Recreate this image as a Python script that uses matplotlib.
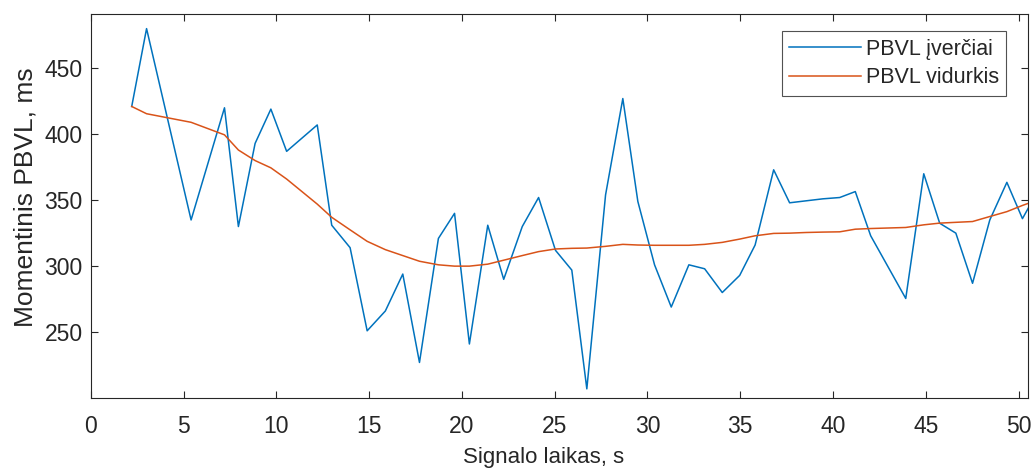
import numpy as np
import matplotlib
matplotlib.use("Agg")
import matplotlib.pyplot as plt

# signal time (s) of each estimate
t = [2.2, 3.0, 5.4, 7.2, 7.95, 8.85, 9.7, 10.55, 12.2, 12.98, 13.97, 14.89,
     15.87, 16.81, 17.71, 18.73, 19.6, 20.4, 21.39, 22.25, 23.25, 24.13,
     25.04, 25.92, 26.73, 27.74, 28.67, 29.48, 30.38, 31.28, 32.23, 33.08,
     34.03, 34.97, 35.8, 36.8, 37.66, 38.55, 39.45, 40.36, 41.2, 42.03,
     43.92, 44.89, 45.75, 46.62, 47.52, 48.45, 49.37, 50.21, 51.0]

# momentary RR interval estimates, ms
rr = [421, 480, 335, 420, 330, 393, 419, 387, 407, 331, 314, 251,
      266, 294, 227, 321, 340, 241, 331, 290, 330, 352,
      312, 297, 207, 354, 427, 349, 301, 269, 301, 298,
      280, 293, 316, 373, 348, 349.5, 351, 352, 356.5, 323,
      275.5, 370, 332.5, 325, 287, 335, 363.5, 336, 356]

# running mean, ms
rr_mean = [421, 415.5, 409, 399.5, 388, 380, 374.5, 366, 347, 337, 327.5, 318.8,
           312.5, 308, 303.7, 301, 300, 300, 301.5, 304.5, 308, 311,
           313, 313.5, 313.7, 315, 316.5, 316, 315.8, 315.8, 315.8, 316.5,
           318, 320.5, 323, 324.8, 325, 325.5, 325.8, 326, 328, 328.5,
           329.3, 331.3, 332.6, 333.2, 333.8, 337.6, 341.3, 346, 350]

plt.rcParams['font.family'] = ['Liberation Sans', 'DejaVu Sans']

fig = plt.figure(figsize=(10.33, 4.70), dpi=100)
ax = fig.add_axes([0.088, 0.153, 0.907, 0.817])

ax.plot(t, rr, color='#0072BD', lw=1.1, label='PBVL įverčiai')
ax.plot(t, rr_mean, color='#D95319', lw=1.1, label='PBVL vidurkis')

ax.set_xlim(0, 50.5)
ax.set_ylim(200, 491)
ax.set_xticks(np.arange(0, 51, 5))
ax.set_yticks([250, 300, 350, 400, 450])

dark = '#262626'
for s in ax.spines.values():
    s.set_color(dark)
    s.set_linewidth(0.8)
ax.tick_params(direction='in', length=5, width=0.8, colors=dark,
               labelsize=16.5, top=True, right=True)
ax.tick_params(axis='x', pad=12)
ax.tick_params(axis='y', pad=6)

ax.set_xlabel('Signalo laikas, s', fontsize=16, color=dark)
ax.xaxis.set_label_coords(0.483, -0.127)
ax.set_ylabel('Momentinis PBVL, ms', fontsize=19, color=dark)
ax.yaxis.set_label_coords(-0.057, 0.523)

leg = ax.legend(loc='upper right', bbox_to_anchor=(0.977, 0.955), fontsize=15.5,
                handlelength=3.35, frameon=True, fancybox=False,
                borderaxespad=0, borderpad=0.35, labelspacing=0.35,
                handletextpad=0.2)
leg.get_frame().set_edgecolor(dark)
leg.get_frame().set_linewidth(0.8)
for txt in leg.get_texts():
    txt.set_color(dark)

fig.savefig('out.png', dpi=100)
